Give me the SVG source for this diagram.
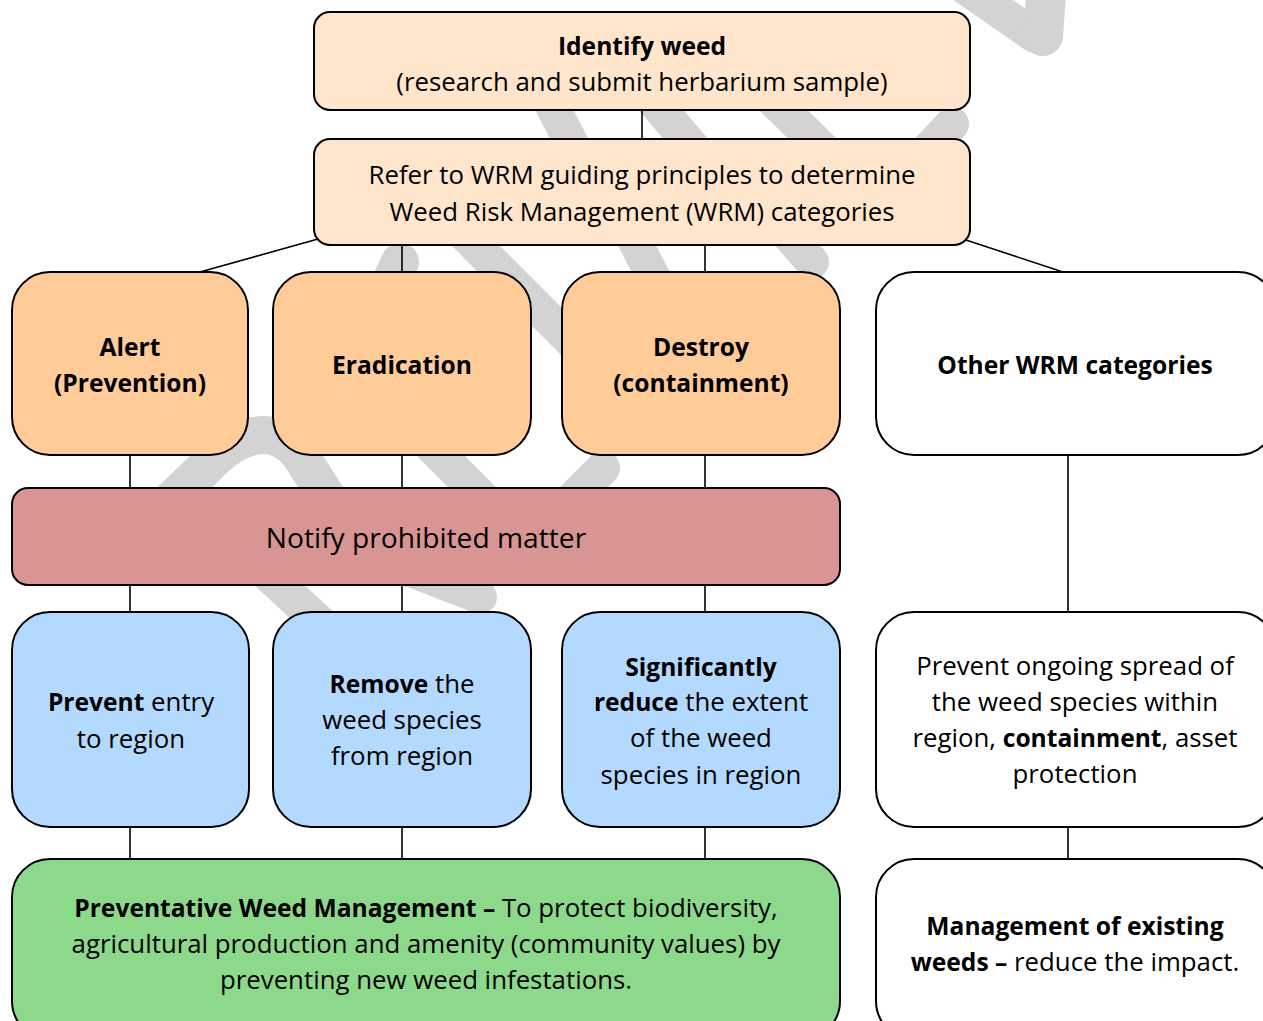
<svg xmlns="http://www.w3.org/2000/svg" width="1263" height="1021" viewBox="0 0 1263 1021">
<style>
  .wm { fill: none; stroke: #d3d3d3; stroke-width: 34; stroke-linecap: round; stroke-linejoin: round; }
  .box { stroke: #000; stroke-width: 2; }
  .pale { fill: #ffe5cc; }
  .peach { fill: #ffcb99; }
  .white { fill: #ffffff; }
  .red { fill: #d99594; }
  .blue { fill: #b3d9fe; }
  .green { fill: #8dd98c; }
  .conn line { stroke: #000; stroke-width: 1.6; }
  text { font-family: "Open Sans", "Liberation Sans", sans-serif; font-size: 25.8px; fill: #000; text-anchor: middle; }
  .b { font-weight: bold; font-size: 24.6px; }
  .big { font-size: 28.2px; }
</style>
<rect width="1263" height="1021" fill="#ffffff"/>
<g id="watermark">
  <line class="wm" x1="940" y1="-30" x2="1035" y2="36"/>
  <line class="wm" x1="1047" y1="-20" x2="1043" y2="36" style="stroke-width:40"/>
  <line class="wm" x1="548" y1="98" x2="575" y2="150"/>
  <line class="wm" x1="651" y1="98" x2="696" y2="151"/>
  <line class="wm" x1="770" y1="97" x2="826" y2="152"/>
  <line class="wm" x1="952" y1="124" x2="922" y2="156"/>
  <line class="wm" x1="400" y1="262" x2="382" y2="300" style="stroke-width:38"/>
  <line class="wm" x1="465" y1="235" x2="600" y2="370"/>
  <line class="wm" x1="630" y1="232" x2="660" y2="290"/>
  <line class="wm" x1="780" y1="225" x2="812" y2="262"/>
  <path class="wm" d="M140,530 L205,468 C232,438 272,418 300,455 L345,525" style="stroke-width:38"/>
  <line class="wm" x1="425" y1="440" x2="490" y2="505"/>
  <line class="wm" x1="603" y1="468" x2="565" y2="506"/>
  <line class="wm" x1="265" y1="572" x2="325" y2="627"/>
  <line class="wm" x1="400" y1="566" x2="480" y2="597"/>
</g>
<g class="conn" id="connectors">
  <line x1="642" y1="110" x2="642" y2="139"/>
  <line x1="318" y1="239" x2="200" y2="272"/>
  <line x1="402" y1="245" x2="402" y2="272"/>
  <line x1="705" y1="245" x2="705" y2="272"/>
  <line x1="966" y1="240" x2="1063" y2="272"/>
  <line x1="130" y1="455" x2="130" y2="488"/>
  <line x1="402" y1="455" x2="402" y2="488"/>
  <line x1="705" y1="455" x2="705" y2="488"/>
  <line x1="1068" y1="455" x2="1068" y2="612"/>
  <line x1="130" y1="585" x2="130" y2="612"/>
  <line x1="402" y1="585" x2="402" y2="612"/>
  <line x1="705" y1="585" x2="705" y2="612"/>
  <line x1="130" y1="827" x2="130" y2="859"/>
  <line x1="402" y1="827" x2="402" y2="859"/>
  <line x1="705" y1="827" x2="705" y2="859"/>
  <line x1="1068" y1="827" x2="1068" y2="859"/>
</g>
<g id="identify">
  <rect class="box pale" x="314" y="12" width="656" height="98" rx="16"/>
  <text x="642" y="55" class="b">Identify weed</text>
  <text x="642" y="91">(research and submit herbarium sample)</text>
</g>
<g id="refer">
  <rect class="box pale" x="314" y="139" width="656" height="106" rx="16"/>
  <text x="642" y="184">Refer to WRM guiding principles to determine</text>
  <text x="642" y="221">Weed Risk Management (WRM) categories</text>
</g>
<g id="alert">
  <rect class="box peach" x="12" y="272" width="236" height="183" rx="38"/>
  <text x="130" y="356" class="b">Alert</text>
  <text x="130" y="392" class="b">(Prevention)</text>
</g>
<g id="eradication">
  <rect class="box peach" x="273" y="272" width="258" height="183" rx="38"/>
  <text x="402" y="374" class="b">Eradication</text>
</g>
<g id="destroy">
  <rect class="box peach" x="562" y="272" width="278" height="183" rx="38"/>
  <text x="701" y="356" class="b">Destroy</text>
  <text x="701" y="392" class="b">(containment)</text>
</g>
<g id="other">
  <rect class="box white" x="876" y="272" width="400" height="183" rx="38"/>
  <text x="1075" y="374" class="b">Other WRM categories</text>
</g>
<g id="notify">
  <rect class="box red" x="12" y="488" width="828" height="97" rx="16"/>
  <text x="426" y="548" class="big">Notify prohibited matter</text>
</g>
<g id="prevent-entry">
  <rect class="box blue" x="12" y="612" width="237" height="215" rx="38"/>
  <text x="131" y="711"><tspan class="b">Prevent</tspan> entry</text>
  <text x="131" y="748">to region</text>
</g>
<g id="remove">
  <rect class="box blue" x="273" y="612" width="258" height="215" rx="38"/>
  <text x="402" y="693"><tspan class="b">Remove</tspan> the</text>
  <text x="402" y="729">weed species</text>
  <text x="402" y="765">from region</text>
</g>
<g id="reduce">
  <rect class="box blue" x="562" y="612" width="278" height="215" rx="38"/>
  <text x="701" y="676" class="b">Significantly</text>
  <text x="701" y="711"><tspan class="b">reduce</tspan> the extent</text>
  <text x="701" y="747">of the weed</text>
  <text x="701" y="784">species in region</text>
</g>
<g id="containment">
  <rect class="box white" x="876" y="612" width="400" height="215" rx="38"/>
  <text x="1075" y="675">Prevent ongoing spread of</text>
  <text x="1075" y="711">the weed species within</text>
  <text x="1075" y="747">region, <tspan class="b">containment</tspan>, asset</text>
  <text x="1075" y="783">protection</text>
</g>
<g id="preventative">
  <rect class="box green" x="12" y="859" width="828" height="180" rx="38"/>
  <text x="426" y="917"><tspan class="b">Preventative Weed Management –</tspan> To protect biodiversity,</text>
  <text x="426" y="953">agricultural production and amenity (community values) by</text>
  <text x="426" y="989">preventing new weed infestations.</text>
</g>
<g id="management">
  <rect class="box white" x="876" y="859" width="400" height="180" rx="38"/>
  <text x="1075" y="935" class="b">Management of existing</text>
  <text x="1075" y="971"><tspan class="b">weeds –</tspan> reduce the impact.</text>
</g>
</svg>
